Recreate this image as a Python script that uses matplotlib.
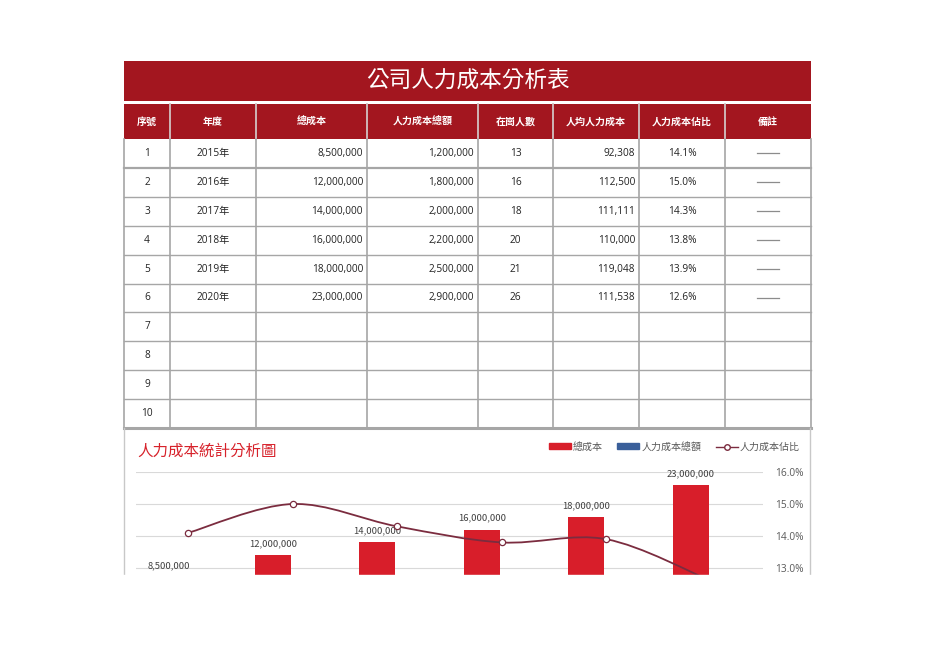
import numpy as np
import matplotlib
matplotlib.use('Agg')
import matplotlib.pyplot as plt
from matplotlib.patches import Rectangle, PathPatch
from matplotlib.path import Path
from matplotlib.lines import Line2D

plt.rcParams['font.family'] = ['Open Sans', 'Noto Sans CJK TC', 'DejaVu Sans']

# data
title = '公司人力成本分析表'
chart_title = '人力成本統計分析圖'
headers = ['序號', '年度', '總成本', '人力成本總額', '在崗人數', '人均人力成本', '人力成本佔比', '備註']
years = ['2015年', '2016年', '2017年', '2018年', '2019年', '2020年']
total_cost = [8500000, 12000000, 14000000, 16000000, 18000000, 23000000]
hr_cost = [1200000, 1800000, 2000000, 2200000, 2500000, 2900000]
staff = [13, 16, 18, 20, 21, 26]
per_capita = [92308, 112500, 111111, 110000, 119048, 111538]
hr_ratio = [14.1, 15.0, 14.3, 13.8, 13.9, 12.6]
n_rows = 10

RED_DARK = '#A3161F'
RED = '#D81E2A'
BLUE = '#3A5F9A'
MAROON = '#7B2C3F'
GRID = '#A6A6A6'

fig = plt.figure(figsize=(9.36, 6.62), dpi=100)
bg = fig.add_axes([0, 0, 1, 1], zorder=0)
bg.set_xlim(0, 936)
bg.set_ylim(662, 0)
bg.axis('off')

# ---- table ----
cols = [124, 170, 256, 367, 478, 553, 639, 725, 811]
bg.add_patch(Rectangle((124, 61), 687, 40, color=RED_DARK, lw=0))
bg.text(468, 80, title, color='white', fontsize=16.3, ha='center', va='center',
        family=['Noto Sans CJK TC'])

head_top, head_bot = 104, 139
bg.add_patch(Rectangle((124, head_top), 687, head_bot - head_top, color=RED_DARK, lw=0))
for i, h in enumerate(headers):
    bg.text((cols[i] + cols[i + 1]) / 2, (head_top + head_bot) / 2, h, color='white',
            fontsize=7.2, fontweight='bold', ha='center', va='center',
            family=['Noto Sans CJK TC'])
for x in cols[1:-1]:
    bg.plot([x, x], [head_top, head_bot], color='#D2C2C2', lw=1.3)

row_h = (428 - 139) / n_rows
row_edges = [139 + row_h * i for i in range(n_rows + 1)]
for k, y in enumerate(row_edges[1:-1]):
    bg.plot([124, 811], [y, y], color=GRID, lw=1.6 if k == 0 else 1.0)
bg.plot([124, 811], [428, 428], color=GRID, lw=2.2)
for x in cols:
    bg.plot([x, x], [head_bot, 428], color=GRID, lw=1.2)

def fmt(v):
    return f'{v:,}'

for r in range(n_rows):
    yc = row_edges[r] + row_h / 2
    kw = dict(fontsize=7.3, va='center', color='#222222')
    bg.text((cols[0] + cols[1]) / 2, yc, str(r + 1), ha='center', **kw)
    if r < len(years):
        bg.text((cols[1] + cols[2]) / 2, yc, years[r], ha='center', **kw)
        bg.text(cols[3] - 4, yc, fmt(total_cost[r]), ha='right', **kw)
        bg.text(cols[4] - 4, yc, fmt(hr_cost[r]), ha='right', **kw)
        bg.text((cols[4] + cols[5]) / 2, yc, str(staff[r]), ha='center', **kw)
        bg.text(cols[6] - 4, yc, fmt(per_capita[r]), ha='right', **kw)
        bg.text((cols[6] + cols[7]) / 2, yc, f'{hr_ratio[r]:.1f}%', ha='center', **kw)
        bg.plot([757, 779], [yc, yc], color='#8C8C8C', lw=0.9)

# chart frame
bg.plot([124, 124], [428, 662], color='#C8C8C8', lw=1.0)
bg.plot([810, 810], [428, 662], color='#C8C8C8', lw=1.0)
bg.text(137, 451, chart_title, color='#D7222B', fontsize=11.2, ha='left', va='center',
        family=['Noto Sans CJK TC'])

# ---- chart ----
W, H = 936, 662
ax = fig.add_axes([136 / W, 1 - 632 / H, 627 / W, 160 / H], zorder=1)
ax.patch.set_alpha(0)
x = np.arange(len(years))
bw = 0.345
b1 = ax.bar(x - 0.19, total_cost, bw, color=RED, zorder=2)
b2 = ax.bar(x + 0.17, hr_cost, bw, color=BLUE, zorder=2)
ax.set_xlim(-0.5, len(years) - 0.5)
ax.set_ylim(0, 25000000)
ax.set_yticks([0, 5000000, 10000000, 15000000, 20000000, 25000000])
ax.yaxis.grid(True, color='#D9D9D9', lw=0.8)
ax.set_axisbelow(True)
for s in ax.spines.values():
    s.set_visible(False)
for bars in (b1, b2):
    for rect in bars:
        ax.annotate(fmt(int(rect.get_height())),
                    (rect.get_x() + rect.get_width() / 2, rect.get_height()),
                    xytext=(0, 5), textcoords='offset points', ha='center', va='bottom',
                    fontsize=6.8, color='#404040', family=['Noto Sans CJK TC'], zorder=3)

ax2 = ax.twinx()
ax.tick_params(left=False, bottom=False, labelleft=False, labelbottom=False)
ax2.set_ylim(11, 16)
ax2.set_yticks([11, 12, 13, 14, 15, 16])
ax2.set_yticklabels([f'{v:.1f}%' for v in [11, 12, 13, 14, 15, 16]])
ax2.tick_params(right=False, left=False, labelsize=7.3, labelcolor='#595959', pad=5)
for s in ax2.spines.values():
    s.set_visible(False)

# smooth line through the ratio points (cubic bezier segments)
pts = np.column_stack([x, hr_ratio]).astype(float)
ext = np.vstack([pts[0], pts, pts[-1]])
verts = [tuple(pts[0])]
codes = [Path.MOVETO]
for i in range(len(pts) - 1):
    p0, p1, p2, p3 = ext[i], ext[i + 1], ext[i + 2], ext[i + 3]
    c1 = p1 + (p2 - p0) / 6
    c2 = p2 - (p3 - p1) / 6
    verts += [tuple(c1), tuple(c2), tuple(p2)]
    codes += [Path.CURVE4] * 3
ax2.add_patch(PathPatch(Path(verts, codes), facecolor='none', edgecolor=MAROON, lw=1.3))
ax2.plot(x, hr_ratio, ls='none', marker='o', ms=4.5, mfc='white', mec=MAROON, mew=0.9)

handles = [Rectangle((0, 0), 1, 1, color=RED), Rectangle((0, 0), 1, 1, color=BLUE),
           Line2D([], [], color=MAROON, lw=1.0, marker='o', ms=4, mfc='white', mec=MAROON)]
leg = fig.legend(handles, ['總成本', '人力成本總額', '人力成本佔比'], loc='center right',
                 bbox_to_anchor=(809 / W, 1 - 447 / H), ncol=3, frameon=False,
                 handlelength=2.2, handleheight=0.55, handletextpad=0.25,
                 columnspacing=1.4, prop={'family': ['Noto Sans CJK TC'], 'size': 7.2})
for t in leg.get_texts():
    t.set_color('#595959')

# page is cut off below the chart
fig.patches.append(Rectangle((0, 0), 1, 1 - 575 / H, transform=fig.transFigure,
                             color='white', zorder=100))

fig.savefig('out.png', dpi=100)
